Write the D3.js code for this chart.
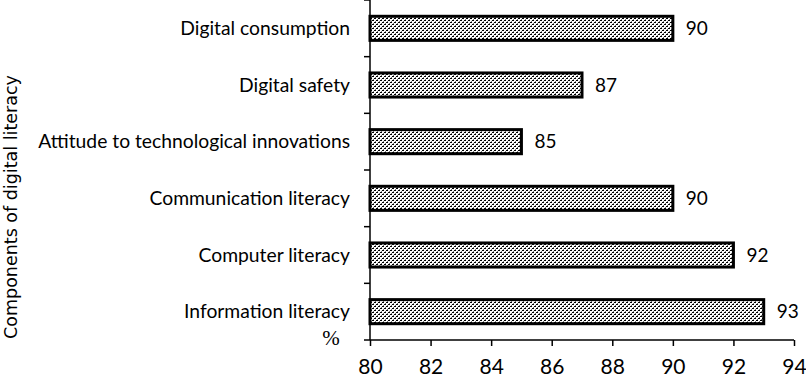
<!DOCTYPE html>
<html>
<head>
<meta charset="utf-8">
<script src="https://cdn.jsdelivr.net/npm/d3@7"></script>
<style>
  body { margin: 0; background: #fff; }
  text { font-family: Lato, "Open Sans", sans-serif; fill: #000; }
</style>
</head>
<body>
<script>
//////////////// Data ////////////////////
var categories = ["Digital consumption", "Digital safety", "Attitude to technological innovations",
  "Communication literacy", "Computer literacy", "Information literacy"];
var values = [90, 87, 85, 90, 92, 93];
var xTicks = [80, 82, 84, 86, 88, 90, 92, 94];

//////////////// Sizes ////////////////////
var width = 806, height = 377;
var plotLeft = 370, plotRight = 794, plotTop = 0, plotBottom = 340;

var svg = d3.select("body")
  .append("svg")
  .attr("width", width)
  .attr("height", height);

//////////////// Pattern ////////////////////
// small dashes in a brick layout, like the printed dot fill
var defs = svg.append("defs");
var pat = defs.append("pattern")
  .attr("id", "dots")
  .attr("patternUnits", "userSpaceOnUse")
  .attr("width", 4)
  .attr("height", 4);
pat.append("rect").attr("width", 4).attr("height", 4).attr("fill", "#fff");
pat.append("rect").attr("x", 0).attr("y", 0).attr("width", 2).attr("height", 1).attr("fill", "#000");
pat.append("rect").attr("x", 2).attr("y", 2).attr("width", 2).attr("height", 1).attr("fill", "#000");
pat.append("rect").attr("x", 3).attr("y", 1).attr("width", 1).attr("height", 1).attr("fill", "#777");
pat.append("rect").attr("x", 1).attr("y", 3).attr("width", 1).attr("height", 1).attr("fill", "#777");

//////////////// Scales ////////////////////
var xScale = d3.scaleLinear()
  .domain([80, 94])
  .range([plotLeft, plotRight]);
var yScale = d3.scaleBand()
  .domain(categories)
  .range([plotTop, plotBottom])
  .paddingInner(0.575)
  .paddingOuter(0.2875);

//////////////// Bars ////////////////////
svg.append("g").attr("class", "bars")
  .selectAll("rect")
  .data(values)
  .enter()
  .append("rect")
    .attr("x", xScale(80))
    .attr("y", function(d, i) { return yScale(categories[i]); })
    .attr("width", function(d) { return xScale(d) - xScale(80); })
    .attr("height", yScale.bandwidth())
    .attr("fill", "url(#dots)")
    .attr("stroke", "#000")
    .attr("stroke-width", 3);

//////////////// Value labels ////////////////////
svg.append("g").attr("class", "vals")
  .selectAll("text")
  .data(values)
  .enter()
  .append("text")
    .attr("x", function(d) { return xScale(d) + 13; })
    .attr("y", function(d, i) { return yScale(categories[i]) + yScale.bandwidth() / 2; })
    .attr("dy", "0.35em")
    .style("font-size", "19px")
    .text(function(d) { return d; });

//////////////// Axes ////////////////////
var xAxis = d3.axisBottom(xScale)
  .tickValues(xTicks)
  .tickSize(6)
  .tickPadding(13);
var gx = svg.append("g")
  .attr("transform", "translate(0," + plotBottom + ")")
  .call(xAxis);
gx.select(".domain").attr("stroke-width", 1.5).attr("d", "M" + plotLeft + ",0H" + plotRight);
gx.selectAll(".tick line").attr("stroke-width", 1.5);
gx.selectAll(".tick text")
  .style("font-family", "Lato, sans-serif")
  .style("font-size", "21px")
  .attr("fill", "#000");

// y axis line and boundary ticks
var gy = svg.append("g");
gy.append("line")
  .attr("x1", plotLeft).attr("x2", plotLeft)
  .attr("y1", plotTop).attr("y2", plotBottom)
  .attr("stroke", "#000").attr("stroke-width", 1.5);
var bounds = d3.range(categories.length + 1).map(function(i) { return plotTop + i * yScale.step(); });
gy.selectAll("line.tk")
  .data(bounds)
  .enter()
  .append("line")
    .attr("class", "tk")
    .attr("x1", plotLeft - 6).attr("x2", plotLeft)
    .attr("y1", function(d) { return d; }).attr("y2", function(d) { return d; })
    .attr("stroke", "#000").attr("stroke-width", 1.5);

// category labels
gy.selectAll("text.cat")
  .data(categories)
  .enter()
  .append("text")
    .attr("class", "cat")
    .attr("x", plotLeft - 20)
    .attr("y", function(d) { return yScale(d) + yScale.bandwidth() / 2; })
    .attr("dy", "0.35em")
    .attr("text-anchor", "end")
    .style("font-size", "19.3px")
    .text(function(d) { return d; });

// unit
svg.append("text")
  .attr("x", 331)
  .attr("y", 345)
  .attr("text-anchor", "middle")
  .style("font-family", "'Liberation Serif', serif")
  .style("font-size", "21px")
  .text("%");

// y title
svg.append("text")
  .attr("transform", "translate(17,207) rotate(-90)")
  .attr("text-anchor", "middle")
  .style("font-family", "'DejaVu Sans', sans-serif")
  .style("font-size", "17.5px")
  .text("Components of digital literacy");
</script>
</body>
</html>
